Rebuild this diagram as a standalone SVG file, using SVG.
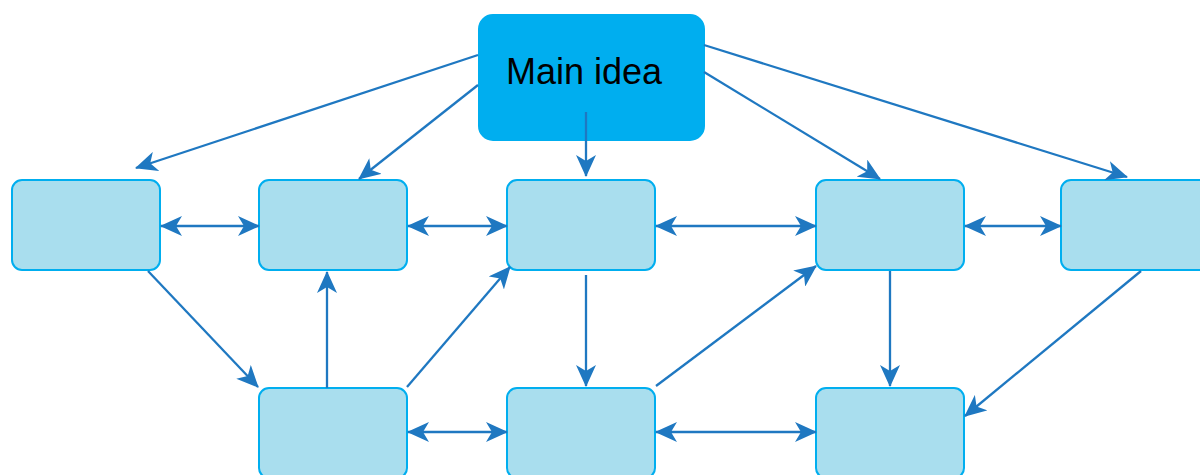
<svg xmlns="http://www.w3.org/2000/svg" width="1200" height="475" viewBox="0 0 1200 475">
<style>
.node rect{fill:#A9DEEE;stroke:#00AEEF;stroke-width:2}
#main rect{fill:#00AEEF;stroke:#00AEEF;stroke-width:2}
#main text{font-family:"Liberation Sans",Arial,sans-serif;font-size:36px;fill:#000}
#connectors line{stroke:#1F78C1;stroke-width:2.3;fill:none}
.one{marker-end:url(#ah)}
.two{marker-start:url(#ah);marker-end:url(#ah)}
</style>
<defs>
<marker id="ah" markerUnits="userSpaceOnUse" viewBox="0 0 22 20" markerWidth="22" markerHeight="20" refX="21" refY="10" orient="auto-start-reverse">
<path d="M22,10 L0,0 L6,10 L0,20 Z" fill="#1F78C1"/>
</marker>
</defs>
<rect width="1200" height="475" fill="#fff"/>
<g id="main"><rect x="479" y="15" width="225" height="125" rx="14"/><text x="506" y="84">Main idea</text></g>
<g id="n1" class="node"><rect x="12" y="180" width="148" height="90" rx="10"/></g>
<g id="n2" class="node"><rect x="259" y="180" width="148" height="90" rx="10"/></g>
<g id="n3" class="node"><rect x="507" y="180" width="148" height="90" rx="10"/></g>
<g id="n4" class="node"><rect x="816" y="180" width="148" height="90" rx="10"/></g>
<g id="n5" class="node"><rect x="1061" y="180" width="148" height="90" rx="10"/></g>
<g id="b1" class="node"><rect x="259" y="388" width="148" height="90" rx="10"/></g>
<g id="b2" class="node"><rect x="507" y="388" width="148" height="90" rx="10"/></g>
<g id="b3" class="node"><rect x="816" y="388" width="148" height="90" rx="10"/></g>
<g id="connectors">
<line class="one" x1="478" y1="55" x2="136" y2="168"/>
<line class="one" x1="478" y1="85" x2="359" y2="179"/>
<line class="one" x1="586" y1="112" x2="586" y2="176"/>
<line class="one" x1="704" y1="72" x2="880" y2="179"/>
<line class="one" x1="704" y1="45" x2="1127" y2="177"/>
<line class="two" x1="161" y1="226" x2="259" y2="226"/>
<line class="two" x1="408" y1="226" x2="507" y2="226"/>
<line class="two" x1="656" y1="226" x2="816" y2="226"/>
<line class="two" x1="965" y1="226" x2="1061" y2="226"/>
<line class="two" x1="408" y1="432" x2="507" y2="432"/>
<line class="two" x1="656" y1="432" x2="816" y2="432"/>
<line class="one" x1="148" y1="271" x2="258" y2="387"/>
<line class="one" x1="327" y1="388" x2="327" y2="272"/>
<line class="one" x1="407" y1="387" x2="510" y2="267"/>
<line class="one" x1="586" y1="275" x2="586" y2="386"/>
<line class="one" x1="656" y1="386" x2="816" y2="266"/>
<line class="one" x1="890" y1="271" x2="890" y2="386"/>
<line class="one" x1="1141" y1="271" x2="965" y2="416"/>
</g>
</svg>
